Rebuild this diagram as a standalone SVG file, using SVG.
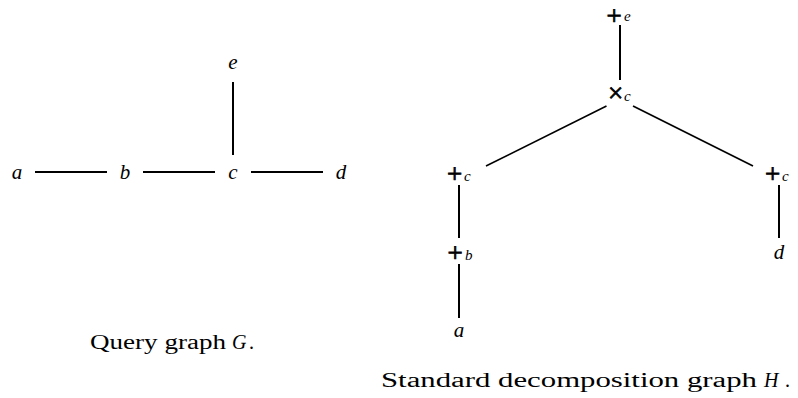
<svg xmlns="http://www.w3.org/2000/svg" width="798" height="398" viewBox="0 0 798 398" font-family="'Liberation Serif', 'Times New Roman', serif">
<style>
text{font-family:'Liberation Serif','Times New Roman',serif;fill:#000}
.v{font-style:italic;font-size:21px;text-anchor:middle}
.op{font-size:27px;text-anchor:middle;stroke:#000;stroke-width:0.8}
.sub{font-style:italic;font-size:15px}
.cap{font-size:20px}
.e line{stroke:#000;stroke-width:2}
</style>
<rect width="798" height="398" fill="#fff"/>
<g id="connectors" class="e">
<line x1="35" y1="172" x2="107" y2="172"/>
<line x1="143" y1="172" x2="215" y2="172"/>
<line x1="251" y1="172" x2="323" y2="172"/>
<line x1="233" y1="82" x2="233" y2="155"/>
<line x1="620" y1="25" x2="620" y2="80"/>
<line x1="606.5" y1="106" x2="486" y2="166" style="stroke-width:1.6"/>
<line x1="633" y1="106" x2="753" y2="166" style="stroke-width:1.6"/>
<line x1="459" y1="185" x2="459" y2="238"/>
<line x1="779" y1="185" x2="779" y2="238"/>
<line x1="459" y1="264" x2="459" y2="318"/>
</g>
<g id="G-a"><text class="v" x="17" y="179">a</text></g>
<g id="G-b"><text class="v" x="125" y="179">b</text></g>
<g id="G-c"><text class="v" x="233" y="179">c</text></g>
<g id="G-d"><text class="v" x="341" y="179">d</text></g>
<g id="G-e"><text class="v" x="233" y="69">e</text></g>
<g id="H-plus-e"><text class="op" x="614" y="25">+</text><text class="sub" x="624" y="21">e</text></g>
<g id="H-times-c"><text class="op" x="615.5" y="102">×</text><text class="sub" x="624" y="101">c</text></g>
<g id="H-plus-c-left"><text class="op" x="454.5" y="183">+</text><text class="sub" x="464" y="181">c</text></g>
<g id="H-plus-c-right"><text class="op" x="772.5" y="183">+</text><text class="sub" x="782" y="181">c</text></g>
<g id="H-plus-b"><text class="op" x="455" y="262">+</text><text class="sub" x="465" y="260">b</text></g>
<g id="H-a"><text class="v" x="459" y="337">a</text></g>
<g id="H-d"><text class="v" x="779" y="259">d</text></g>
<text class="cap" x="90" y="349" textLength="136" lengthAdjust="spacingAndGlyphs">Query graph</text>
<text class="cap" x="232" y="349" font-style="italic">G</text><text class="cap" x="249" y="349">.</text>
<text class="cap" x="381" y="387" textLength="376" lengthAdjust="spacingAndGlyphs">Standard decomposition graph</text>
<text class="cap" x="764" y="387" font-style="italic">H</text><text class="cap" x="785" y="387">.</text>
</svg>
